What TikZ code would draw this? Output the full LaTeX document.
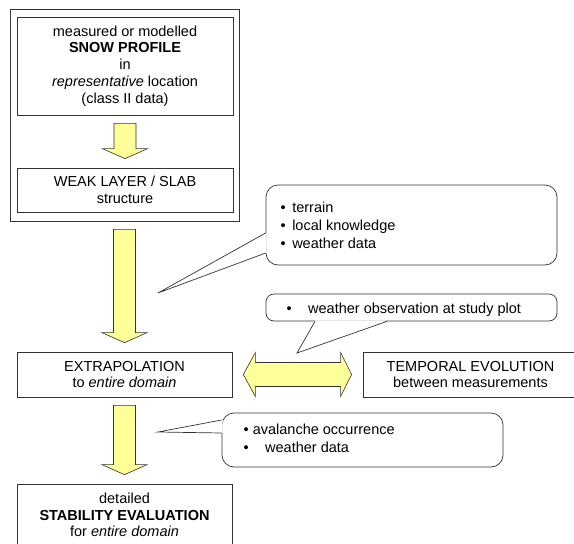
\documentclass[tikz,border=0pt]{standalone}
\usepackage{fontspec}
\setmainfont{Liberation Sans}
\usetikzlibrary{calc}
\definecolor{arrowyellow}{HTML}{FFFF99}
\definecolor{linegray}{HTML}{333333}
\newcommand\blockdown[2]{%
  \path[blockarrow] let \p1=(#1.south), \p2=(#2.north) in
    (\x1-11pt,\y1-8pt) -- (\x1+11pt,\y1-8pt) -- (\x1+11pt,\y2+19pt) --
    (\x1+22.5pt,\y2+19pt) -- (\x1,\y2+9pt) -- (\x1-22.5pt,\y2+19pt) --
    (\x1-11pt,\y2+19pt) -- cycle;}
\begin{document}
\begin{tikzpicture}[x=1pt,y=-1pt,
  every node/.style={font=\fontsize{14.5}{16.8}\selectfont},
  box/.style={draw=linegray, line width=0.7pt, fill=white, align=center, inner sep=0pt},
  blockarrow/.style={draw=linegray, fill=arrowyellow, line width=0.6pt},
  callout/.style={draw=linegray, fill=white, line width=0.7pt, rounded corners=#1, inner sep=0pt},
  callout/.default=12pt,
  pointer/.style={draw=linegray, line width=0.7pt},
  listtext/.style={align=left, inner sep=0pt, anchor=west, font=\fontsize{14.5}{18}\selectfont}]
\useasboundingbox (0,0) rectangle (574,544);
\clip (0,0) rectangle (574,544);
\fill[white] (0,0) rectangle (574,544);

% boxes
\node[box, minimum width=229pt, minimum height=212pt] (outer) at (124.5,115) {};
\node[box, minimum width=216pt, minimum height=98pt] (profile) at (125,66)
  {measured or modelled\\\textbf{SNOW PROFILE}\\in\\\textit{representative} location\\(class II data)};
\node[box, minimum width=216pt, minimum height=44pt] (weak) at (125,190)
  {WEAK LAYER / SLAB\\structure};
\node[box, minimum width=215pt, minimum height=45pt] (extra) at (124.5,374.5)
  {EXTRAPOLATION\\to \textit{entire domain}};
\node[box, minimum width=215pt, minimum height=45pt] (temporal) at (470.5,374.5)
  {TEMPORAL EVOLUTION\\between measurements};
\node[box, minimum width=215pt, minimum height=62pt] (stab) at (124.5,515)
  {detailed\\\textbf{STABILITY EVALUATION}\\for \textit{entire domain}};

% block arrows
\blockdown{profile}{weak}
\blockdown{outer}{extra}
\blockdown{extra}{stab}
\path[blockarrow] let \p1=(extra.east), \p2=(temporal.west) in
  (\x1+11pt,\y1) -- (\x1+23pt,\y1+22pt) -- (\x1+23pt,\y1+12pt) --
  (\x2-22pt,\y1+12pt) -- (\x2-22pt,\y1+22pt) -- (\x2-11pt,\y1) --
  (\x2-22pt,\y1-22pt) -- (\x2-22pt,\y1-12pt) -- (\x1+23pt,\y1-12pt) --
  (\x1+23pt,\y1-22pt) -- cycle;

% callout 1
\node[callout, minimum width=291pt, minimum height=80pt] (c1) at (411.5,225) {};
\coordinate (t1) at (158,293);
\fill[white] ($(c1.west)+(1,8)$) -- (t1) -- ($(c1.west)+(1,28)$) -- cycle;
\draw[pointer] ($(c1.west)+(0,8)$) -- (t1) -- ($(c1.west)+(0,28)$);
\node[listtext] (l1) at (280.5,225)
  {\textbullet\hspace{6.5pt}terrain\\\textbullet\hspace{6.5pt}local knowledge\\\textbullet\hspace{6.5pt}weather data};

% callout 2
\node[callout=8pt, minimum width=291pt, minimum height=27pt] (c2) at (411.5,307.5) {};
\coordinate (t2) at (297,353);
\fill[white] ($(c2.south)+(-96.5,-1)$) -- (t2) -- ($(c2.south)+(-24.5,-1)$) -- cycle;
\draw[pointer] ($(c2.south)+(-96.5,0)$) -- (t2) -- ($(c2.south)+(-24.5,0)$);
\node[listtext] (l2) at (286.5,310)
  {\makebox[21.5pt][l]{\textbullet}weather observation at study plot};

% callout 3
\node[callout, minimum width=281pt, minimum height=54pt] (c3) at (362.5,440) {};
\coordinate (t3) at (158,432);
\fill[white] ($(c3.west)+(1,-20)$) -- (t3) -- ($(c3.west)+(1,-7)$) -- cycle;
\draw[pointer] ($(c3.west)+(0,-20)$) -- (t3) -- ($(c3.west)+(0,-7)$);
\node[listtext] (l3) at (243.5,438)
  {\textbullet\ avalanche occurrence\\\makebox[21.5pt][l]{\textbullet}weather data};
\end{tikzpicture}
\end{document}
